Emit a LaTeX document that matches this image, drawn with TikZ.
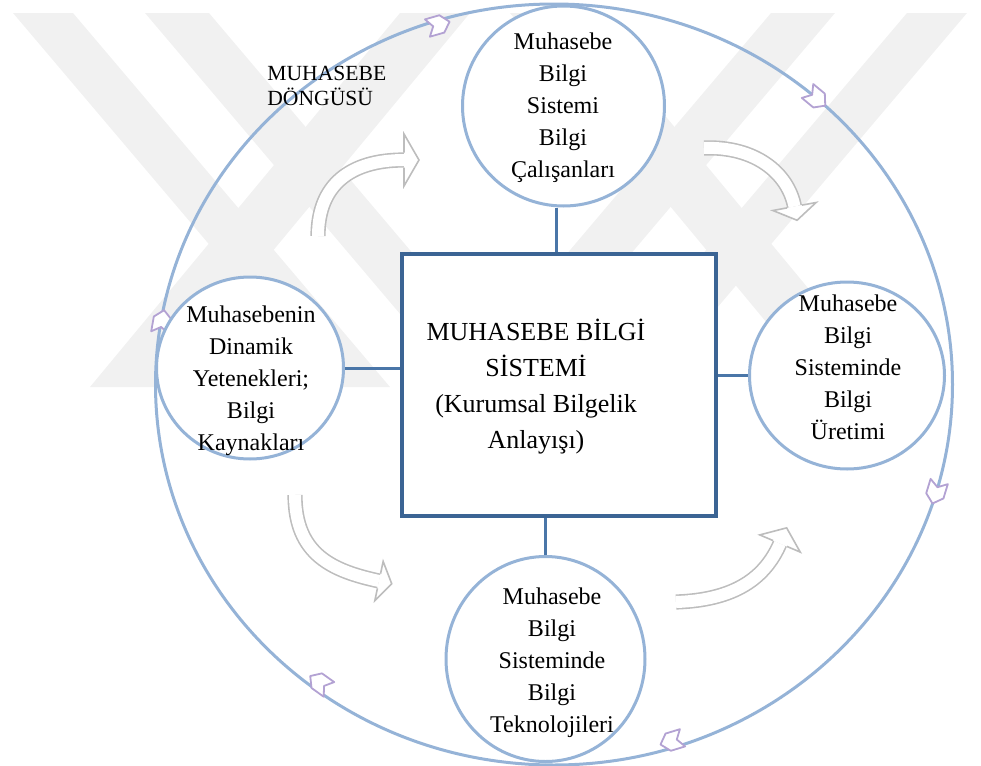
\documentclass[tikz,border=0pt]{standalone}
\usepackage{fontspec}
\setmainfont{Liberation Serif}
\usetikzlibrary{shapes.geometric}
\definecolor{ringblue}{HTML}{95B3D7}
\definecolor{boxblue}{HTML}{3B6494}
\definecolor{linkblue}{HTML}{4A76A8}
\definecolor{chevlilac}{HTML}{B3A2D3}
\definecolor{bendgray}{HTML}{BDBDBD}
\definecolor{markgray}{HTML}{F1F1F1}
\begin{document}
\begin{tikzpicture}[x=0.5pt,y=-0.5pt,
  bubble/.style={ellipse, draw=ringblue, line width=1.5pt, fill=white, inner sep=0pt},
  centerbox/.style={rectangle, draw=boxblue, line width=1.75pt, fill=white, inner sep=0pt,
    minimum width=157pt, minimum height=131pt},
  bubbletext/.style={align=center, inner sep=0pt, font=\fontsize{12}{16}\selectfont},
  boxtext/.style={align=center, inner sep=0pt, font=\fontsize{13}{18}\selectfont},
  cycletext/.style={align=left, inner sep=0pt, anchor=north west, font=\fontsize{10.8}{12.5}\selectfont},
  link/.style={draw=linkblue, line width=1.5pt},
  chev/.style={draw=chevlilac, fill=white, line width=0.9pt, line join=round},
  bendband/.style={draw=bendgray, line width=0.8pt, double=white, double distance=6pt},
  bendhead/.style={draw=bendgray, fill=white, line width=0.8pt, line join=miter},
  markband/.style={fill=markgray, draw=none},
]
\useasboundingbox (0,0) rectangle (981,766);

% faint background emblem
\fill[markband] (13,13) -- (73,13) -- (390,387) -- (330,387) -- cycle;
\fill[markband] (145,13) -- (209,13) -- (526,387) -- (462,387) -- cycle;
\fill[markband] (90,387) -- (160,387) -- (470,13) -- (400,13) -- cycle;
\fill[markband] (967,13) -- (907,13) -- (590,387) -- (650,387) -- cycle;
\fill[markband] (835,13) -- (771,13) -- (454,387) -- (518,387) -- cycle;
\fill[markband] (890,387) -- (820,387) -- (510,13) -- (580,13) -- cycle;

% outer cycle
\node[ellipse, draw=ringblue, line width=1.5pt, inner sep=0pt,
      minimum width=398.5pt, minimum height=380.5pt] (ring) at (554,384.5) {};

% direction marks along the cycle
\foreach \px/\py/\ang in {438/25/16, 816/98/-39.6, 936/492/-107,
                          672/741/-163, 320/683/144.4, 162/322/80}{
  \draw[chev, shift={(\px,\py)}, rotate=\ang]
    (-11,-9) -- (4,-9) -- (12,0) -- (4,9) -- (-11,9) -- (-5,0) -- cycle;
}

% curved transition arrows
\draw[bendband] (318,236) .. controls (318,185) and (350,160) .. (404,160);
\draw[bendhead, shift={(404,160)}, rotate=0]
  (0,-7.5) -- (0,-26) -- (15,0) -- (0,26) -- (0,7.5);
\draw[bendband] (704,148) .. controls (755,146) and (788,173) .. (794.5,206.5);
\draw[bendhead, shift={(794.5,206.5)}, rotate=-79.5]
  (0,-7.5) -- (0,-22) -- (14,0) -- (0,22) -- (0,7.5);
\draw[bendband] (295,495) .. controls (295,555) and (333,571) .. (379,581);
\draw[bendhead, shift={(379,581)}, rotate=-12]
  (0,-7.5) -- (0,-20) -- (13,0) -- (0,20) -- (0,7.5);
\draw[bendband] (676,602) .. controls (735,600) and (765,578) .. (780,543.5);
\draw[bendhead, shift={(780,543.5)}, rotate=67]
  (0,-7.5) -- (0,-22) -- (17,0) -- (0,22) -- (0,7.5);

% central system box and the four surrounding components
\node[centerbox] (box) at (559,385) {};
\node[bubble, minimum width=101pt, minimum height=100pt] (top) at (563.5,106) {};
\node[bubble, minimum width=93.5pt, minimum height=91pt] (left) at (250,368) {};
\node[bubble, minimum width=97.5pt, minimum height=93.5pt] (right) at (847,375.5) {};
\node[bubble, minimum width=99.5pt, minimum height=102.5pt] (bottom) at (545.5,659) {};

\draw[link] ([xshift=-3.5pt]top.south) -- ([xshift=-3.5pt]top.south |- box.north);
\draw[link] (left.east) -- (left.east -| box.west);
\draw[link] (right.west) -- (right.west -| box.east);
\draw[link] (bottom.north) -- (bottom.north |- box.south);

% labels
\node[boxtext] (boxlabel) at (536,387)
  {MUHASEBE BİLGİ\\SİSTEMİ\\(Kurumsal Bilgelik\\Anlayışı)};
\node[bubbletext] (toplabel) at (563,108)
  {Muhasebe\\Bilgi\\Sistemi\\Bilgi\\Çalışanları};
\node[bubbletext] (leftlabel) at (251,381)
  {Muhasebenin\\Dinamik\\Yetenekleri;\\Bilgi\\Kaynakları};
\node[bubbletext] (rightlabel) at (848,367)
  {Muhasebe\\Bilgi\\Sisteminde\\Bilgi\\Üretimi};
\node[bubbletext] (bottomlabel) at (552,663)
  {Muhasebe\\Bilgi\\Sisteminde\\Bilgi\\Teknolojileri};
\node[cycletext] (cyclelabel) at (267,66) {MUHASEBE\\DÖNGÜSÜ};
\end{tikzpicture}
\end{document}
